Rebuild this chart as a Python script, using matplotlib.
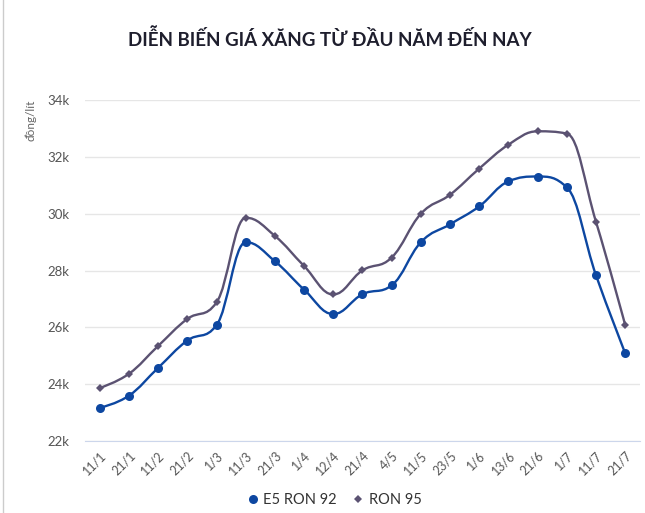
import numpy as np
import matplotlib
matplotlib.use("Agg")
import matplotlib.pyplot as plt
from matplotlib.path import Path
from matplotlib.patches import PathPatch
from matplotlib.lines import Line2D

categories = ["11/1", "21/1", "11/2", "21/2", "1/3", "11/3", "21/3", "1/4", "12/4",
              "21/4", "4/5", "11/5", "23/5", "1/6", "13/6", "21/6", "1/7", "11/7", "21/7"]
e5_ron92 = [23170, 23600, 24580, 25540, 26080, 29000, 28330, 27330, 26470,
            27170, 27480, 29000, 29630, 30260, 31140, 31310, 30930, 27830, 25090]
ron95 = [23870, 24370, 25350, 26300, 26880, 29860, 29220, 28160, 27160,
         28010, 28460, 30000, 30670, 31590, 32430, 32900, 32820, 29710, 26080]
series_names = ["E5 RON 92", "RON 95"]
y_ticks = [22000, 24000, 26000, 28000, 30000, 32000, 34000]
y_tick_labels = ["22k", "24k", "26k", "28k", "30k", "32k", "34k"]

C_E5 = "#0d47a1"
C_95 = "#5b5272"

plt.rcParams['font.family'] = ['Lato', 'DejaVu Sans']


def spline_path(xs, ys, smoothing=1.5):
    """Highcharts-style spline through points (data coordinates)."""
    n = len(xs)
    denom = smoothing + 1
    lc = [None] * n
    rc = [None] * n
    for i in range(n):
        x, y = xs[i], ys[i]
        if i == 0 or i == n - 1:
            lc[i] = (x, y)
            rc[i] = (x, y)
            continue
        lx, ly = xs[i - 1], ys[i - 1]
        nx, ny = xs[i + 1], ys[i + 1]
        lcx = (smoothing * x + lx) / denom
        lcy = (smoothing * y + ly) / denom
        rcx = (smoothing * x + nx) / denom
        rcy = (smoothing * y + ny) / denom
        corr = 0
        if rcx != lcx:
            corr = ((rcy - lcy) * (rcx - x)) / (rcx - lcx) + y - rcy
        lcy += corr
        rcy += corr
        if lcy > ly and lcy > y:
            lcy = max(ly, y)
            rcy = 2 * y - lcy
        elif lcy < ly and lcy < y:
            lcy = min(ly, y)
            rcy = 2 * y - lcy
        if rcy > ny and rcy > y:
            rcy = max(ny, y)
            lcy = 2 * y - rcy
        elif rcy < ny and rcy < y:
            rcy = min(ny, y)
            lcy = 2 * y - rcy
        lc[i] = (lcx, lcy)
        rc[i] = (rcx, rcy)
    verts = [(xs[0], ys[0])]
    codes = [Path.MOVETO]
    for i in range(1, n):
        verts += [rc[i - 1], lc[i], (xs[i], ys[i])]
        codes += [Path.CURVE4] * 3
    return Path(verts, codes)


fig = plt.figure(figsize=(6.45, 5.13), dpi=100)
ax = fig.add_axes([0.132, 0.140, 0.860, 0.665])

x = np.arange(len(categories))
for vals, color, marker, ms, name in [
        (ron95, C_95, "D", 4.5, series_names[1]),
        (e5_ron92, C_E5, "o", 6.5, series_names[0])]:
    p = spline_path(list(x.astype(float)), list(map(float, vals)))
    ax.add_patch(PathPatch(p, facecolor="none", edgecolor=color, lw=1.7, zorder=3))
    ax.plot(x, vals, linestyle="none", marker=marker, ms=ms, color=color,
            markeredgewidth=0, zorder=4)

ax.set_xlim(-0.5, len(categories) - 0.5)
ax.set_ylim(22000, 34000)
ax.set_yticks(y_ticks)
ax.set_yticklabels(y_tick_labels)
ax.set_xticks(x)
ax.set_xticklabels(categories, rotation=45, ha="right", rotation_mode="anchor")
ax.grid(axis="y", color="#e6e6e6", lw=1)
ax.set_axisbelow(True)
for s in ["top", "right", "left"]:
    ax.spines[s].set_visible(False)
ax.spines["bottom"].set_color("#ccd6eb")
ax.tick_params(axis="y", length=0, pad=11, labelsize=9.5, labelcolor="#555555")
ax.tick_params(axis="x", length=0, pad=6, labelsize=9, labelcolor="#555555")

fig.text(0.512, 0.925, "DIỄN BIẾN GIÁ XĂNG TỪ ĐẦU NĂM ĐẾN NAY", ha="center", va="center",
         fontsize=13.5, fontweight="bold", color="#1e1e2d")
fig.text(0.048, 0.765, "đồng/lít", rotation=90, ha="center", va="center",
         fontsize=8.5, color="#666666")

handles = [Line2D([], [], linestyle="none", marker="o", ms=6.5, color=C_E5, markeredgewidth=0),
           Line2D([], [], linestyle="none", marker="D", ms=4.5, color=C_95, markeredgewidth=0)]
fig.legend(handles, series_names, loc="center", bbox_to_anchor=(0.517, 0.025), ncol=2,
           frameon=False, fontsize=10.5, handletextpad=0.2, columnspacing=1.0,
           labelcolor="#333333", handlelength=1.0)

fig.add_artist(Line2D([0.004, 0.004], [0, 1], transform=fig.transFigure, color="#cccccc", lw=1))

fig.savefig("out.png", dpi=100)
